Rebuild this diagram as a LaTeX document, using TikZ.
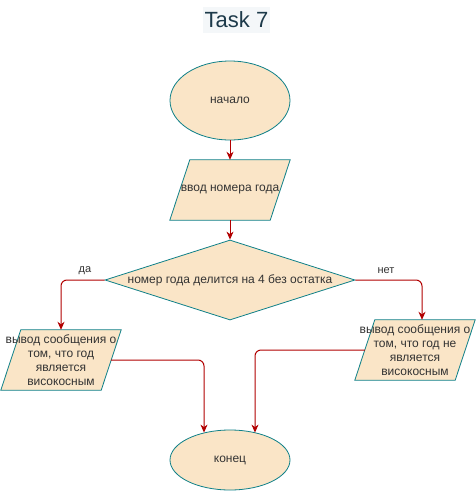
\documentclass[tikz,border=0pt]{standalone}
\usepackage{fontspec}
\setmainfont{Liberation Sans}
\usetikzlibrary{shapes.geometric,arrows.meta}
\definecolor{fillc}{HTML}{FAE5C7}
\definecolor{strokec}{HTML}{0E8088}
\definecolor{arrc}{HTML}{B20000}
\definecolor{txtc}{HTML}{333333}
\definecolor{titlebg}{HTML}{F4F7F9}
\definecolor{titletxt}{HTML}{1D3A4A}
\begin{document}
\begin{tikzpicture}[x=1pt,y=-1pt,
  term/.style={ellipse, draw=strokec, fill=fillc, line width=0.8pt, inner sep=0, text=txtc, font=\fontsize{12}{14}\selectfont},
  iobox/.style={rectangle, draw=none, minimum width=100, minimum height=60, inner sep=0},
  paral/.style={draw=strokec, fill=fillc, line width=0.8pt},
  cond/.style={diamond, aspect=3.125, draw=strokec, fill=fillc, line width=0.8pt, minimum width=250, minimum height=80, inner sep=0, text=txtc, font=\fontsize{12}{14}\selectfont},
  txtbox/.style={text=txtc, font=\fontsize{12}{14}\selectfont, align=center, inner sep=0},
  lbl/.style={text=txtc, font=\fontsize{11}{13}\selectfont, inner sep=0},
  arr/.style={draw=arrc, line width=1pt, -{Stealth[length=8pt,width=7pt,inset=2.5pt]}, rounded corners=6pt}
]
\useasboundingbox (0,0) rectangle (476,491);
\fill[white] (0,0) rectangle (476,491);

\node[fill=titlebg, text=titletxt, font=\fontsize{22}{26}\selectfont, inner xsep=1.5pt, inner ysep=0, minimum height=26] (title) at (236.5,20) {Task 7};

\node[term, minimum width=120, minimum height=79] (s) at (230,100.5) {начало};

\node[iobox] (in) at (230,190) {};
\draw[paral] ([xshift=-10pt]in.south west) -- ([xshift=10pt]in.north west) -- ([xshift=10pt]in.north east) -- ([xshift=-10pt]in.south east) -- cycle;
\node[txtbox] (intxt) at (in.center) {ввод номера года};

\node[cond] (d) at (230,280) {номер года делится на 4 без остатка};

\node[iobox] (lp) at (61,360) {};
\draw[paral] ([xshift=-10pt]lp.south west) -- ([xshift=10pt]lp.north west) -- ([xshift=10pt]lp.north east) -- ([xshift=-10pt]lp.south east) -- cycle;
\node[txtbox] (lptxt) at (lp.center) {вывод сообщения о\\том, что год\\является\\високосным};

\node[iobox] (rp) at (415,350) {};
\draw[paral] ([xshift=-10pt]rp.south west) -- ([xshift=10pt]rp.north west) -- ([xshift=10pt]rp.north east) -- ([xshift=-10pt]rp.south east) -- cycle;
\node[txtbox] (rptxt) at (rp.center) {вывод сообщения о\\том, что год не\\является\\високосным};

\node[term, minimum width=120, minimum height=60] (e) at (230,460) {конец};

\node[lbl] (yes) at (85,271) {да};
\node[lbl] (no) at (386,271) {нет};

\draw[arr] (s) -- (in);
\draw[arr] (in) -- (d);
\draw[arr] (d.west) -| (lp.north);
\draw[arr] (d.east) -| ([xshift=7pt]rp.north);
\draw[arr] (lp.east) -| ([xshift=-26pt,yshift=-3pt]e.north);
\draw[arr] (rp.west) -| ([xshift=25pt,yshift=-3pt]e.north);
\end{tikzpicture}
\end{document}
